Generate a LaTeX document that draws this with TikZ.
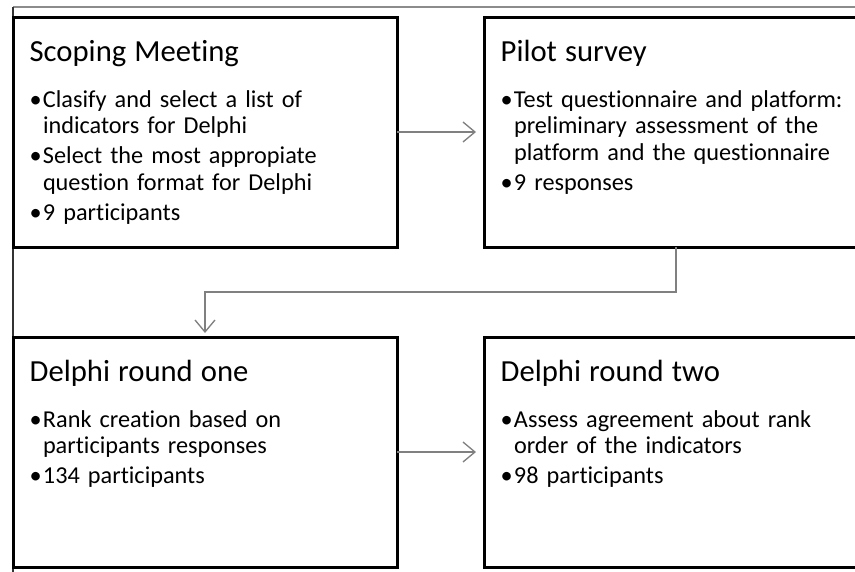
\documentclass[tikz,border=0pt]{standalone}
\usepackage{fontspec}
\setmainfont{Carlito}[Ligatures=NoCommon]
\usetikzlibrary{arrows.meta,positioning}
\newcommand{\cim}[1]{{\fontsize{23}{27}\selectfont #1}\par\vspace{14.5pt}}
\newcommand{\pont}[1]{\par\hangindent=10pt\hangafter=1\makebox[10pt][l]{\textbullet}#1\par\vspace{2.5pt}}
\tikzset{
  doboz/.style={draw,line width=2.25pt,outer sep=0pt,minimum width=288pt,minimum height=172.5pt,
                inner xsep=12.5pt,inner ysep=0pt,text width=263pt,align=left,anchor=north west,
                font=\fontsize{18.2}{20}\selectfont,text height=33pt,text depth=139.5pt},
  nyil/.style={draw=black!50,line width=1pt,-{Straight Barb[length=9pt,width=15pt]},shorten >=6pt},
}
\begin{document}
\begin{tikzpicture}
  \useasboundingbox (0,0) rectangle (641.25pt,-428.25pt);
  \clip (0,0) rectangle (641.25pt,-428.25pt);
  \draw[black!45,line width=1.2pt] (9.75pt,-5.25pt) -- (660pt,-5.25pt);
  \draw[black!80,line width=1pt] (9.75pt,-5.25pt) -- (9.75pt,-440pt);
  \node[doboz] (meet) at (9.75pt,-12.75pt) {\cim{Scoping Meeting}%
    \pont{Clasify and select a list of\newline indicators for Delphi}%
    \pont{Select the most appropiate\newline question format for Delphi}%
    \pont{9 participants}};
  \node[doboz,right=65.25pt of meet] (pilot) {\cim{Pilot survey}%
    \pont{Test questionnaire and platform:\newline preliminary assessment of the\newline platform and the questionnaire}%
    \pont{9 responses}};
  \node[doboz,below=67.5pt of meet] (round1) {\cim{Delphi round one}%
    \pont{Rank creation based on\newline participants responses}%
    \pont{134 participants}};
  \node[doboz,right=65.25pt of round1] (round2) {\cim{Delphi round two}%
    \pont{Assess agreement about rank\newline order of the indicators}%
    \pont{98 participants}};
  \draw[nyil] (meet) -- (pilot);
  \draw[nyil,shorten >=3pt] (pilot.south) -- ++(0,-33.75pt) -| (round1.north);
  \draw[nyil] (round1) -- (round2);
\end{tikzpicture}
\end{document}
